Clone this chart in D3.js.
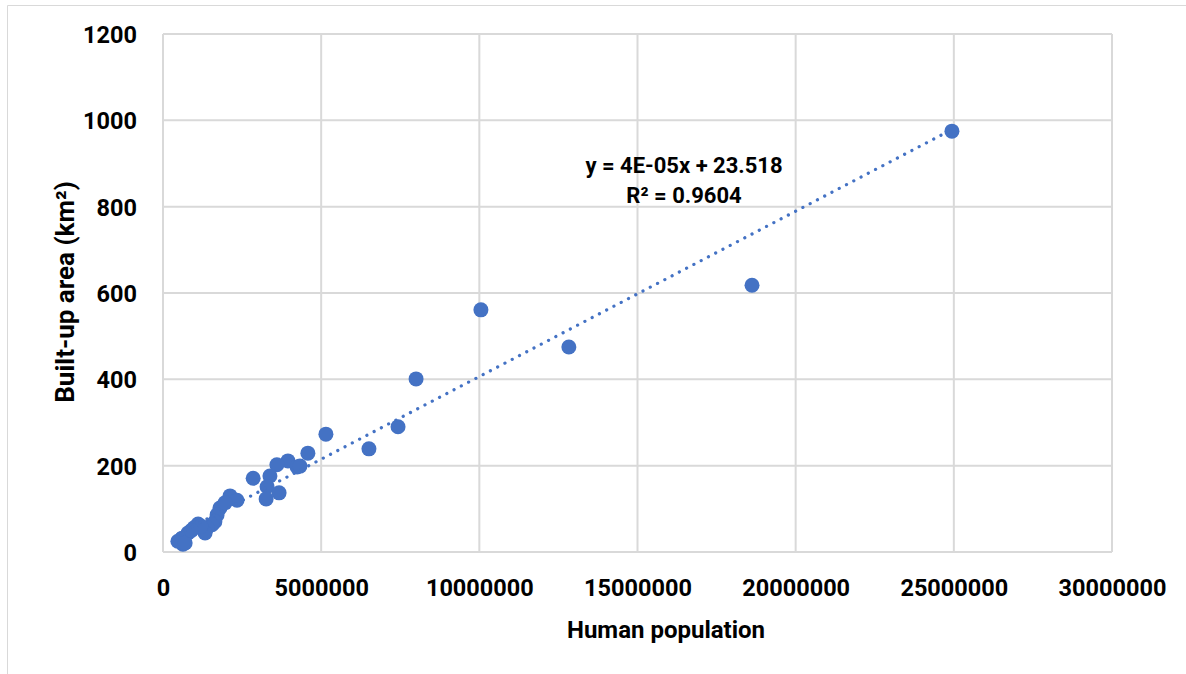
<!DOCTYPE html>
<html>
<head>
<meta charset="utf-8">
<script src="https://cdn.jsdelivr.net/npm/d3@7"></script>
<style>
  body { margin: 0; background: #fff; }
  text { font-family: Roboto, "Open Sans", sans-serif; font-weight: bold; fill: #000; }
</style>
</head>
<body>
<div id="chart"></div>
<script>
// population vs built-up area
const population = [24940000, 18620000, 12830000, 10050000, 8000000, 7430000, 6510000, 5150000,
  4580000, 3950000, 3600000, 4240000, 4330000, 2850000, 3380000, 3290000, 3670000, 3260000,
  2120000, 2340000, 1800000, 1710000, 1640000, 1550000, 1390000, 1330000, 1110000, 980000,
  790000, 600000, 630000, 470000, 700000, 1960000, 1200000, 900000];
const builtUp = [975, 618, 475, 561, 401, 290, 239, 273,
  229, 211, 202, 197, 199, 171, 176, 151, 137, 123,
  130, 120, 102, 86, 70, 63, 56, 44, 65, 56,
  44, 32, 18, 25, 21, 114, 60, 50];

const xTicks = [0, 5000000, 10000000, 15000000, 20000000, 25000000, 30000000];
const yTicks = [0, 200, 400, 600, 800, 1000, 1200];

const trendSlope = 3.83e-5, trendIntercept = 23.518;
const eqLine1 = "y = 4E-05x + 23.518";
const eqLine2 = "R² = 0.9604";

const width = 1186, height = 674;
const margin = {top: 34, right: 74, bottom: 122, left: 163};
const w = width - margin.left - margin.right,
      h = height - margin.top - margin.bottom;

const svg = d3.select("#chart").append("svg")
  .attr("width", width)
  .attr("height", height);

// chart area border (only left and top fall inside the view)
svg.append("path")
  .attr("d", "M7.5,674 L7.5,5.5 L1186,5.5")
  .attr("fill", "none")
  .attr("stroke", "#d9d9d9")
  .attr("stroke-width", 1);

const x = d3.scaleLinear().domain([0, 30000000]).range([0, w]);
const y = d3.scaleLinear().domain([0, 1200]).range([h, 0]);

const g = svg.append("g").attr("transform", `translate(${margin.left},${margin.top})`);

// gridlines
g.selectAll(".vgrid").data(xTicks).join("line")
  .attr("x1", d => x(d)).attr("x2", d => x(d))
  .attr("y1", 0).attr("y2", h)
  .attr("stroke", "#d9d9d9").attr("stroke-width", 2);
g.selectAll(".hgrid").data(yTicks).join("line")
  .attr("x1", 0).attr("x2", w)
  .attr("y1", d => y(d)).attr("y2", d => y(d))
  .attr("stroke", "#d9d9d9").attr("stroke-width", 2);

// axes (labels only)
const xAxis = d3.axisBottom(x).tickValues(xTicks).tickFormat(d3.format("d")).tickSize(0);
const yAxis = d3.axisLeft(y).tickValues(yTicks).tickFormat(d3.format("d")).tickSize(0).tickPadding(26);

const gx = g.append("g").attr("transform", `translate(0,${h})`).call(xAxis);
const gy = g.append("g").call(yAxis);
[gx, gy].forEach(a => {
  a.select(".domain").remove();
  a.selectAll("text").style("font-size", "23.5px").style("font-family", "Roboto, sans-serif").style("font-weight", "bold");
});
gy.selectAll("text").attr("dy", "0.355em");
gx.selectAll("text").attr("y", 44).attr("dy", null);

// points
const pts = population.map((p, i) => ({p, a: builtUp[i]}));
g.selectAll(".dot").data(pts).join("circle")
  .attr("cx", d => x(d.p))
  .attr("cy", d => y(d.a))
  .attr("r", 7.5)
  .attr("fill", "#4472C4");

// linear trendline
const xMin = d3.min(population), xMax = d3.max(population);
g.append("line")
  .attr("x1", x(xMin)).attr("y1", y(trendSlope * xMin + trendIntercept))
  .attr("x2", x(xMax)).attr("y2", y(trendSlope * xMax + trendIntercept))
  .attr("stroke", "#4472C4")
  .attr("stroke-width", 3.2)
  .attr("stroke-linecap", "round")
  .attr("stroke-dasharray", "0.1 8.1");

// equation label
svg.append("text").attr("x", 684).attr("y", 173).attr("text-anchor", "middle")
  .style("font-size", "22px").text(eqLine1);
svg.append("text").attr("x", 684).attr("y", 203).attr("text-anchor", "middle")
  .style("font-size", "22px").text(eqLine2);

// axis titles
svg.append("text").attr("x", 666).attr("y", 638).attr("text-anchor", "middle")
  .style("font-size", "24px").text("Human population");
svg.append("text")
  .attr("transform", "translate(74,292) rotate(-90)")
  .attr("text-anchor", "middle")
  .style("font-size", "26px").text("Built-up area (km²)");
</script>
</body>
</html>
